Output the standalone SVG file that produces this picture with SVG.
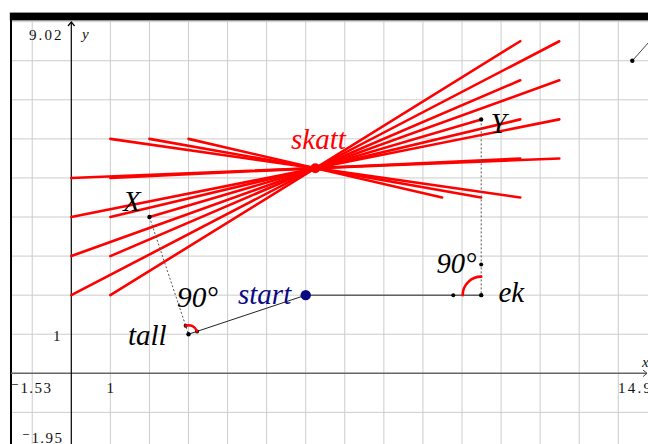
<svg xmlns="http://www.w3.org/2000/svg" width="648" height="444" viewBox="0 0 648 444">
<defs>
<style>
.grid line{stroke:#cccccc;stroke-width:1}
.red{stroke:#ff0000;stroke-width:2.6;stroke-linecap:round;fill:none}
.thin{stroke:#222;stroke-width:1;fill:none}
.dot{stroke:#555;stroke-width:1;stroke-dasharray:2 2;fill:none}
.pt{fill:#000}
.lab{font-family:"Liberation Serif","DejaVu Serif",serif;font-style:italic;font-size:29px}
.tick{font-family:"Liberation Serif","DejaVu Serif",serif;font-size:15px;fill:#111}
</style>
</defs>
<rect x="0" y="0" width="648" height="444" fill="#ffffff"/>
<g class="grid">
<line x1="32.23" y1="20" x2="32.23" y2="444"/>
<line x1="110.37" y1="20" x2="110.37" y2="444"/>
<line x1="149.44" y1="20" x2="149.44" y2="444"/>
<line x1="188.51" y1="20" x2="188.51" y2="444"/>
<line x1="227.58" y1="20" x2="227.58" y2="444"/>
<line x1="266.65" y1="20" x2="266.65" y2="444"/>
<line x1="305.72" y1="20" x2="305.72" y2="444"/>
<line x1="344.79" y1="20" x2="344.79" y2="444"/>
<line x1="383.86" y1="20" x2="383.86" y2="444"/>
<line x1="422.93" y1="20" x2="422.93" y2="444"/>
<line x1="462" y1="20" x2="462" y2="444"/>
<line x1="501.07" y1="20" x2="501.07" y2="444"/>
<line x1="540.14" y1="20" x2="540.14" y2="444"/>
<line x1="579.21" y1="20" x2="579.21" y2="444"/>
<line x1="618.28" y1="20" x2="618.28" y2="444"/>
<line x1="11" y1="21.67" x2="648" y2="21.67"/>
<line x1="11" y1="60.74" x2="648" y2="60.74"/>
<line x1="11" y1="99.81" x2="648" y2="99.81"/>
<line x1="11" y1="138.88" x2="648" y2="138.88"/>
<line x1="11" y1="177.95" x2="648" y2="177.95"/>
<line x1="11" y1="217.02" x2="648" y2="217.02"/>
<line x1="11" y1="256.09" x2="648" y2="256.09"/>
<line x1="11" y1="295.16" x2="648" y2="295.16"/>
<line x1="11" y1="334.23" x2="648" y2="334.23"/>
<line x1="11" y1="412.37" x2="648" y2="412.37"/>
</g>
<g id="frame">
<rect x="10" y="12.5" width="640" height="8" fill="#000" stroke="#999" stroke-width="0.8"/>
<line x1="11" y1="13" x2="11" y2="444" stroke="#000" stroke-width="2"/>
</g>
<g id="axes">
<line x1="11" y1="373.3" x2="647" y2="373.3" stroke="#666" stroke-width="1.5"/>
<path d="M643 370 L647 373.3 L643 376.6" fill="none" stroke="#444" stroke-width="1"/>
<line x1="71.3" y1="22" x2="71.3" y2="444" stroke="#000" stroke-width="1.2"/>
<path d="M68 26 L71.3 22 L74.6 26" fill="none" stroke="#000" stroke-width="1.2"/>
<text x="82" y="39" class="tick" font-style="italic">y</text>
<text x="642" y="367" class="tick" font-style="italic">x</text>
<text x="29" y="39.5" class="tick" textLength="32.5" lengthAdjust="spacing">9.02</text>
<text x="53" y="340.5" class="tick">1</text>
<text x="11" y="392.5" class="tick" textLength="40" lengthAdjust="spacing">⁻1.53</text>
<text x="106.5" y="392.5" class="tick">1</text>
<text x="618" y="393" class="tick" textLength="33" lengthAdjust="spacing">14.9</text>
<text x="22" y="442.5" class="tick" textLength="40" lengthAdjust="spacing">⁻1.95</text>
</g>
<g id="connectors">
<g id="traces">
<line class="red" x1="110.37" y1="138.88" x2="520.23" y2="197.52"/>
<line class="red" x1="149.44" y1="138.88" x2="481.16" y2="197.52"/>
<line class="red" x1="188.51" y1="138.88" x2="442.09" y2="197.52"/>
<line class="red" x1="71.3" y1="177.95" x2="559.3" y2="158.45"/>
<line class="red" x1="110.37" y1="177.95" x2="520.23" y2="158.45"/>
<line class="red" x1="71.3" y1="217.02" x2="559.3" y2="119.38"/>
<line class="red" x1="110.37" y1="217.02" x2="520.23" y2="119.38"/>
<line class="red" x1="149.44" y1="217.02" x2="481.16" y2="119.38"/>
<line class="red" x1="71.3" y1="256.09" x2="559.3" y2="80.31"/>
<line class="red" x1="110.37" y1="256.09" x2="520.23" y2="80.31"/>
<line class="red" x1="71.3" y1="295.16" x2="559.3" y2="41.24"/>
<line class="red" x1="110.37" y1="295.16" x2="520.23" y2="41.24"/>
</g>
<line class="thin" x1="188.51" y1="334.23" x2="305.72" y2="295.16" stroke="#333"/>
<line class="thin" x1="305.72" y1="295.16" x2="481.2" y2="295.16" stroke="#000"/>
<line class="dot" x1="149.44" y1="217.02" x2="188.51" y2="334.23"/>
<line class="dot" x1="481.2" y1="119.38" x2="481.2" y2="295.16"/>
<line x1="632.3" y1="60.8" x2="652" y2="38.6" stroke="#444" stroke-width="1"/>
</g>
<g id="skatt">
<circle cx="315.3" cy="168.2" r="5" fill="#ff0000"/>
<text x="291" y="149" class="lab" fill="#ff0000">skatt</text>
</g>
<g id="start">
<circle cx="305.72" cy="295.16" r="5.2" fill="#0a0a80"/>
<text x="238" y="304" class="lab" fill="#0a0a80">start</text>
</g>
<g id="tall">
<circle class="pt" cx="188.51" cy="334.23" r="2.2"/>
<circle class="pt" cx="185.66" cy="325.69" r="2"/>
<circle class="pt" cx="197.05" cy="331.39" r="2"/>
<path d="M185.66 325.69 A9 9 0 0 1 197.05 331.39" class="red" stroke-width="2.4"/>
<text x="128" y="345" class="lab" fill="#000">tall</text>
<text x="177" y="307" class="lab" font-style="normal" font-size="28" fill="#000" textLength="41" lengthAdjust="spacingAndGlyphs">90°</text>
</g>
<g id="ek">
<circle class="pt" cx="481.2" cy="295.16" r="2.2"/>
<circle class="pt" cx="453.3" cy="295.16" r="2"/>
<circle class="pt" cx="481.2" cy="264.4" r="2"/>
<path d="M462.7 295.16 A18.5 18.5 0 0 1 481.2 276.66" class="red" stroke-width="2.6"/>
<text x="498.5" y="302" class="lab" font-size="30" fill="#000">ek</text>
<text x="436.5" y="273" class="lab" font-style="normal" font-size="26" fill="#000" textLength="40" lengthAdjust="spacingAndGlyphs">90°</text>
</g>
<g id="X">
<circle class="pt" cx="149.44" cy="217.02" r="2.2"/>
<text x="123" y="211" class="lab" fill="#000">X</text>
</g>
<g id="Y">
<circle class="pt" cx="481.16" cy="119.38" r="2.2"/>
<text x="490.5" y="133" class="lab" fill="#000">Y</text>
</g>
<g id="P">
<circle class="pt" cx="632.3" cy="60.8" r="2.2"/>
</g>
</svg>
